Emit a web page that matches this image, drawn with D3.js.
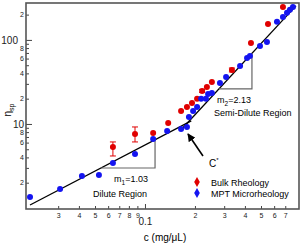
<!DOCTYPE html>
<html>
<head>
<meta charset="utf-8">
<script src="https://cdn.jsdelivr.net/npm/d3@7"></script>
<style>
  body { margin: 0; background: #fff; }
  text { font-family: "Liberation Sans", Arial, Helvetica, sans-serif; }
</style>
</head>
<body>
<div id="chart"></div>
<script>
// MPT microrheology (blue)
const mptC   = [0.0203, 0.0308, 0.0417, 0.0528, 0.0641, 0.0871, 0.112, 0.136, 0.165, 0.179, 0.184, 0.195, 0.206, 0.218, 0.233, 0.240, 0.253, 0.283, 0.308, 0.374, 0.412, 0.429, 0.493, 0.543, 0.624, 0.678, 0.717, 0.747, 0.779]
const mptEta = [1.35, 1.68, 2.40, 2.47, 3.43, 4.39, 6.63, 8.25, 8.72, 9.21, 12.1, 14.3, 15.9, 19.9, 19.9, 22.8, 23.4, 30.8, 36.3, 49.0, 61.1, 64.5, 84.8, 94.6, 164, 188, 210, 228, 247]

// bulk rheology (red), with error bars where visible
const bulkC     = [0.0641, 0.0871, 0.112, 0.138, 0.165, 0.179, 0.192, 0.206, 0.221, 0.236, 0.253, 0.334, 0.435, 0.551, 0.678]
const bulkEta   = [5.33, 7.60, 7.82, 10.3, 14.3, 15.9, 17.8, 19.9, 24.7, 27.6, 31.6, 43.9, 92.1, 155, 247]
const bulkErrLo = [4.16, 6.11, null, null, null, null, null, null, 23.7, null, null, 41.6, null, null, null]
const bulkErrHi = [6.11, 9.21, null, null, null, null, null, null, 25.8, null, null, 46.3, null, null, null]

// power-law fits: eta = eta0 * (c / c0)^slope
const fitSlope = [1.03, 2.13]
const fitC0    = [0.0203, 0.812]
const fitEta0  = [1.086, 254]
const fitFrom  = [0.0203, 0.165]
const fitTo    = [0.19, 0.812]
// slope triangles (c values on each fit line)
const triLeft  = [0.0543, 0.279]
const triRight = [0.115, 0.441]

const xTicks = [0.03, 0.04, 0.05, 0.06, 0.07, 0.08, 0.09, 0.1, 0.2, 0.3, 0.4, 0.5, 0.6, 0.7]
const xTickLabels = ["3", "4", "5", "6", "7", "8", "9", "0.1", "2", "3", "4", "5", "6", "7"]
const yTicks = [2, 3, 4, 5, 6, 7, 8, 9, 10, 20, 30, 40, 50, 60, 70, 80, 90, 100, 200]
const yTickLabels = ["2", "", "4", "", "6", "", "8", "", "10", "2", "", "4", "", "6", "", "8", "", "100", "2"]

// C* arrow (tail, tip) in data units
const arrowC   = [0.2236, 0.1816]
const arrowEta = [4.16, 7.6]

const totalWidth = 303
const totalHeight = 247
var margin = {top: 3, right: 4, bottom: 38, left: 26},
    width = totalWidth - margin.left - margin.right,
    height = totalHeight - margin.top - margin.bottom;

var svg = d3.select("#chart")
  .append("svg")
  .attr("width", totalWidth)
  .attr("height", totalHeight)
var g = svg.append("g")
  .attr("transform", "translate(" + margin.left + "," + margin.top + ")");

var x = d3.scaleLog().domain([0.0192, 0.847]).range([0, width])
var y = d3.scaleLog().domain([0.973, 275]).range([height, 0])

var red = "#e00000", blue = "#1414f0"

// x axis
var xAxis = g.append("g")
  .attr("transform", "translate(0," + height + ")")
  .call(d3.axisBottom(x).tickValues(xTicks).tickSize(-3).tickPadding(4)
    .tickFormat(function(d, i) { return xTickLabels[i] }))
xAxis.select(".domain").remove()
xAxis.selectAll("line").attr("stroke", "#444")
xAxis.selectAll("text").attr("font-size", 7).attr("fill", "#222")
xAxis.selectAll(".tick").filter(function(d) { return d === 0.1 })
  .call(function(t) {
    t.select("line").attr("y2", -5)
    t.select("text").attr("font-size", 10).attr("y", 9)
  })

// y axis
var yAxis = g.append("g")
  .call(d3.axisLeft(y).tickValues(yTicks).tickSize(-3).tickPadding(2)
    .tickFormat(function(d, i) { return yTickLabels[i] }))
yAxis.select(".domain").remove()
yAxis.selectAll("line").attr("stroke", "#444")
yAxis.selectAll("text").attr("font-size", 7).attr("fill", "#222")
yAxis.selectAll(".tick").filter(function(d) { return d === 10 || d === 100 })
  .call(function(t) {
    t.select("line").attr("x2", 6)
    t.select("text").attr("font-size", 10)
  })
yAxis.selectAll(".tick").filter(function(d) { return d === 100 })
  .select("text").attr("x", -8)

// frame
g.append("rect")
  .attr("width", width).attr("height", height)
  .attr("fill", "none").attr("stroke", "#555").attr("stroke-width", 1.6)

// axis titles
svg.append("text")
  .attr("x", 165).attr("y", 241)
  .attr("text-anchor", "middle").attr("font-size", 10)
  .text("c (mg/\u03BCL)")
var yl = svg.append("text")
  .attr("transform", "translate(11,110) rotate(-90)")
  .attr("text-anchor", "middle").attr("font-size", 10)
yl.append("tspan").text("\u03B7")
yl.append("tspan").attr("font-size", 7).attr("dy", 3).text("sp")

// fit lines
function fitVal(k, c) { return fitEta0[k] * Math.pow(c / fitC0[k], fitSlope[k]) }
fitSlope.forEach(function(s, k) {
  g.append("line")
    .attr("x1", x(fitFrom[k])).attr("y1", y(fitVal(k, fitFrom[k])))
    .attr("x2", x(fitTo[k])).attr("y2", y(fitVal(k, fitTo[k])))
    .attr("stroke", "#000").attr("stroke-width", 1.3)
  // slope triangle
  var e1 = fitVal(k, triLeft[k]), e2 = fitVal(k, triRight[k])
  g.append("path")
    .attr("d", d3.line()([[x(triLeft[k]), y(e1)], [x(triRight[k]), y(e1)], [x(triRight[k]), y(e2)]]))
    .attr("fill", "none").attr("stroke", "#666").attr("stroke-width", 1.2)
})

// error bars
var errIdx = d3.range(bulkC.length).filter(function(i) { return bulkErrLo[i] !== null })
var eb = g.append("g").attr("stroke", red).attr("stroke-width", 1)
errIdx.forEach(function(i) {
  var cx = x(bulkC[i])
  eb.append("line").attr("x1", cx).attr("x2", cx).attr("y1", y(bulkErrLo[i])).attr("y2", y(bulkErrHi[i]))
  eb.append("line").attr("x1", cx - 3).attr("x2", cx + 3).attr("y1", y(bulkErrLo[i])).attr("y2", y(bulkErrLo[i]))
  eb.append("line").attr("x1", cx - 3).attr("x2", cx + 3).attr("y1", y(bulkErrHi[i])).attr("y2", y(bulkErrHi[i]))
})

// points
g.append("g").selectAll("circle")
  .data(d3.range(bulkC.length))
  .join("circle")
  .attr("cx", function(i) { return x(bulkC[i]) })
  .attr("cy", function(i) { return y(bulkEta[i]) })
  .attr("r", 3).attr("fill", red)
g.append("g").selectAll("circle")
  .data(d3.range(mptC.length))
  .join("circle")
  .attr("cx", function(i) { return x(mptC[i]) })
  .attr("cy", function(i) { return y(mptEta[i]) })
  .attr("r", 3).attr("fill", blue)

// C* arrow
svg.append("defs").append("marker")
  .attr("id", "head").attr("viewBox", "0 0 10 10")
  .attr("refX", 9).attr("refY", 5)
  .attr("markerWidth", 5).attr("markerHeight", 5)
  .attr("orient", "auto")
  .append("path").attr("d", "M0,0L10,5L0,10z").attr("fill", "#000")
g.append("line")
  .attr("x1", x(arrowC[0])).attr("y1", y(arrowEta[0]))
  .attr("x2", x(arrowC[1])).attr("y2", y(arrowEta[1]))
  .attr("stroke", "#000").attr("stroke-width", 1.6)
  .attr("marker-end", "url(#head)")
var cs = svg.append("text").attr("x", 209).attr("y", 167).attr("font-size", 10)
cs.append("tspan").text("C")
cs.append("tspan").attr("font-size", 6).attr("dy", -5).text("*")

// annotations
function sub(xp, yp, base, s, rest) {
  var t = svg.append("text").attr("x", xp).attr("y", yp).attr("font-size", 9)
  t.append("tspan").text(base)
  t.append("tspan").attr("font-size", 6.5).attr("dy", 2.5).text(s)
  t.append("tspan").attr("dy", -2.5).text(rest)
}
sub(114, 182, "m", "1", "=1.03")
sub(217, 103, "m", "2", "=2.13")
svg.append("text").attr("x", 93).attr("y", 197).attr("font-size", 9).text("Dilute Region")
svg.append("text").attr("x", 214).attr("y", 116).attr("font-size", 9).text("Semi-Dilute Region")

// legend
var legNames = ["Bulk Rheology", "MPT Microrheology"]
var legColors = [red, blue]
legNames.forEach(function(n, i) {
  svg.append("path")
    .attr("transform", "translate(197," + (182 + i * 11) + ")")
    .attr("d", d3.symbol(d3.symbolDiamond, 28)())
    .attr("fill", legColors[i])
  svg.append("text").attr("x", 211).attr("y", 185.5 + i * 11)
    .attr("font-size", 9).text(n)
})
</script>
</body>
</html>
